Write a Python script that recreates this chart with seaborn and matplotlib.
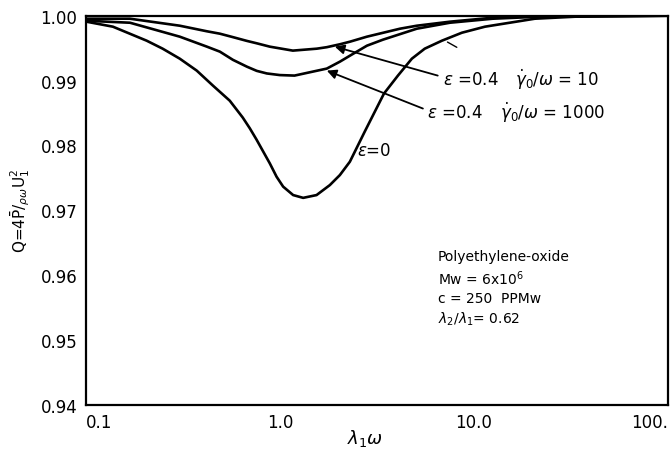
import pandas as pd
import seaborn as sns
import matplotlib.pyplot as plt

# =========================
# Data
# =========================
# eps = 0
lam_eps0 = [0.1, 0.138, 0.206, 0.249, 0.305, 0.373, 0.452, 0.552, 0.644, 0.700,
            0.7585, 0.888, 0.962, 1.040, 1.171, 1.319, 1.546, 1.810, 2.038, 2.295,
            2.74, 3.44, 4.06, 4.79, 5.58, 6.84, 8.67, 11.4, 20.6, 33.2, 100.0]
q_eps0 = [0.9991, 0.99831, 0.99615, 0.99492, 0.99338, 0.99154, 0.98923, 0.98690,
          0.98430, 0.98265, 0.98090, 0.97723, 0.97518, 0.97365, 0.97235, 0.97192,
          0.97235, 0.97389, 0.97543, 0.97749, 0.98215, 0.9880, 0.99077, 0.99338,
          0.99492, 0.99615, 0.99738, 0.99831, 0.99954, 0.99985, 1.0]

# eps = 0.4, gamma0/omega = 1000
lam_g1000 = [0.1, 0.169, 0.305, 0.421, 0.491, 0.573, 0.676, 0.760, 0.857, 1.0,
             1.19, 1.746, 2.04, 2.30, 2.81, 3.40, 5.08, 7.52, 12.5, 21.9, 100.0]
q_g1000 = [0.99923, 0.99892, 0.99677, 0.99523, 0.99446, 0.99320, 0.99215,
           0.99150, 0.99110, 0.99085, 0.99077, 0.99185, 0.99292, 0.99385,
           0.99538, 0.99631, 0.998, 0.99892, 0.99954, 0.99985, 1.0]

# eps = 0.4, gamma0/omega = 10
lam_g10 = [0.1, 0.169, 0.305, 0.421, 0.491, 0.573, 0.676, 0.760, 0.888, 1.167,
           1.551, 1.746, 2.04, 2.30, 2.81, 4.16, 5.08, 7.52, 12.5, 21.9, 100.0]
q_g10 = [0.99954, 0.99954, 0.99846, 0.99760, 0.99723, 0.99670, 0.99612, 0.99575,
         0.99523, 0.99462, 0.99492, 0.99515, 0.99560, 0.996, 0.99677, 0.998,
         0.99846, 0.99908, 0.99969, 1.0, 1.0]

x_ticks = [0.1, 1.0, 10.0, 100.0]
x_tick_labels = ["0.1", "1.0", "10.0", "100."]
y_ticks = [0.94, 0.95, 0.96, 0.97, 0.98, 0.99, 1.00]

info_lines = ["Polyethylene-oxide", r"Mw = 6x10$^6$", "c = 250  PPMw",
              r"$\lambda_2/\lambda_1$= 0.62"]


def build_frame() -> pd.DataFrame:
    parts = []
    for name, xs, ys in [("eps0", lam_eps0, q_eps0),
                         ("g1000", lam_g1000, q_g1000),
                         ("g10", lam_g10, q_g10)]:
        parts.append(pd.DataFrame({"lam": xs, "q": ys, "curve": name}))
    return pd.concat(parts, ignore_index=True)


def main():
    sns.set_theme(style="white")
    plt.rcParams["font.family"] = ["DejaVu Sans"]
    plt.rcParams["mathtext.fontset"] = "dejavusans"
    for key in ["text.color", "axes.labelcolor", "xtick.color", "ytick.color"]:
        plt.rcParams[key] = "black"

    df = build_frame()

    fig = plt.figure(figsize=(6.7, 4.52), dpi=100)
    ax = fig.add_axes([0.128, 0.102, 0.869, 0.861])

    sns.lineplot(data=df, x="lam", y="q", hue="curve", estimator=None,
                 palette={"eps0": "black", "g1000": "black", "g10": "black"},
                 linewidth=1.9, legend=False, ax=ax)

    ax.set_xscale("log")
    ax.set_xlim(0.1, 100)
    ax.set_ylim(0.94, 1.0)

    ax.set_xticks(x_ticks)
    ax.set_xticklabels(x_tick_labels)
    ax.xaxis.set_minor_locator(plt.NullLocator())
    ax.set_yticks(y_ticks)
    ax.set_yticklabels([f"{v:.2f}" for v in y_ticks])
    labels = ax.get_xticklabels()
    labels[0].set_ha("left")
    labels[-1].set_ha("right")

    ax.tick_params(axis="both", direction="in", colors="black", labelsize=12)
    ax.tick_params(axis="y", length=6, width=1.3, pad=6)
    ax.tick_params(axis="x", length=10, width=1.3, pad=6)

    for sp in ax.spines.values():
        sp.set_color("black")
        sp.set_linewidth(1.6)

    ax.set_xlabel(r"$\lambda_1\omega$", fontsize=13)
    ax.xaxis.set_label_coords(0.48, -0.085)
    ax.xaxis.label.set_va("center")
    ax.set_ylabel(r"Q=4$\bar{\mathrm{P}}/_{\rho\omega}\mathrm{U}_1^2$", fontsize=11)
    ax.yaxis.set_label_coords(-0.113, 0.5)
    ax.yaxis.label.set_va("center")

    # Annotations
    arrow = dict(arrowstyle="-|>", color="black", lw=1.3, mutation_scale=14,
                 shrinkA=0, shrinkB=0)
    ax.annotate("", xy=(1.92, 0.99523), xytext=(6.51, 0.99077), arrowprops=arrow)
    ax.annotate("", xy=(1.746, 0.99154), xytext=(5.46, 0.98569), arrowprops=arrow)

    ax.text(6.9, 0.99031, r"$\epsilon$ =0.4", fontsize=12, va="center")
    ax.text(16.3, 0.99031, r"$\dot{\gamma}_0/\omega$ = 10", fontsize=12, va="center")
    ax.text(5.7, 0.98523, r"$\epsilon$ =0.4", fontsize=12, va="center")
    ax.text(13.6, 0.98523, r"$\dot{\gamma}_0/\omega$ = 1000", fontsize=12, va="center")
    ax.text(2.5, 0.97923, r"$\epsilon$=0", fontsize=12, va="center")

    ax.annotate("", xy=(8.4, 0.99492), xytext=(7.1, 0.99615),
                arrowprops=dict(arrowstyle="-", color="black", lw=1.0))

    ax.text(0.605, 0.40, "\n".join(info_lines), transform=ax.transAxes,
            fontsize=10, va="top", ha="left", linespacing=1.35)

    fig.savefig("out.png", dpi=100)
    plt.close(fig)


if __name__ == "__main__":
    main()
